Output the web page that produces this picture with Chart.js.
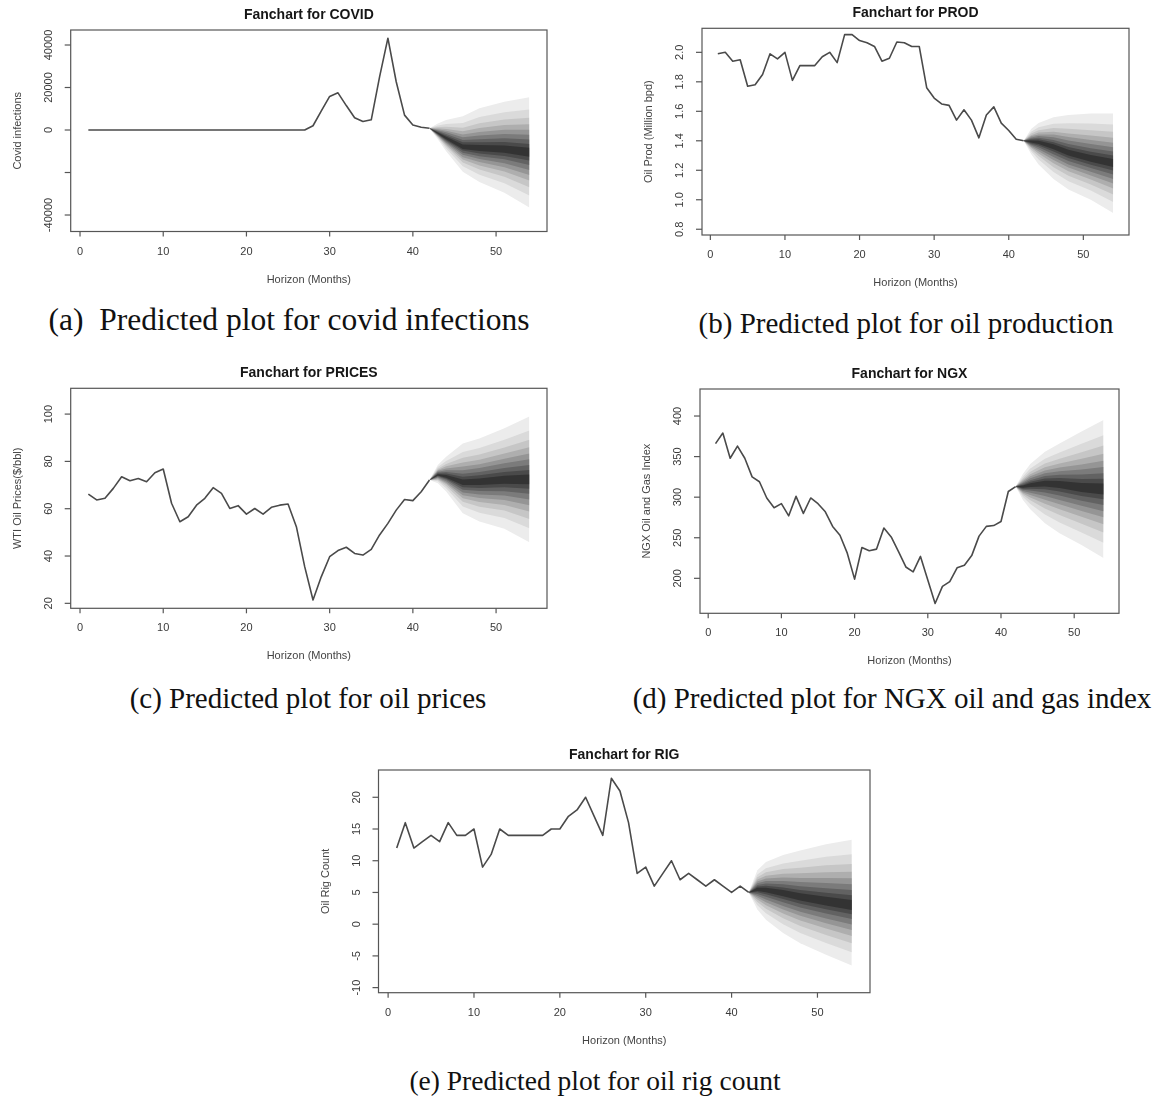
<!DOCTYPE html>
<html>
<head>
<meta charset="utf-8">
<title>Fancharts</title>
<script src="https://cdn.jsdelivr.net/npm/chart.js@4.4.0/dist/chart.umd.min.js"></script>
<style>
  html, body { margin: 0; padding: 0; background: #fff; }
  #page { position: relative; width: 1159px; height: 1097px; overflow: hidden; background: #fff; }
  #page canvas { position: absolute; }
  .caption {
    position: absolute;
    transform: translate(-50%, -50%);
    font-family: "Liberation Serif", "Times New Roman", serif;
    font-size: 29px;
    color: #111;
    white-space: nowrap;
    line-height: 1;
  }
</style>
</head>
<body>
<div id="page">
  <div class="caption" style="left:289px; top:320px; font-size:31.5px">(a)&nbsp; Predicted plot for covid infections</div>
  <div class="caption" style="left:906px; top:323px">(b) Predicted plot for oil production</div>
  <div class="caption" style="left:308px; top:698px">(c) Predicted plot for oil prices</div>
  <div class="caption" style="left:892px; top:698px">(d) Predicted plot for NGX oil and gas index</div>
  <div class="caption" style="left:595px; top:1081px; font-size:27.5px">(e) Predicted plot for oil rig count</div>
</div>
<script>
// observed months and forecast horizon
const months = [1,2,3,4,5,6,7,8,9,10,11,12,13,14,15,16,17,18,19,20,21,
                22,23,24,25,26,27,28,29,30,31,32,33,34,35,36,37,38,39,40,41,42];
const fanMonths = [42, 43, 44, 46, 48, 51, 54];
const xTicks = [0, 10, 20, 30, 40, 50];

// COVID
const covidObs = [0,0,0,0,0,0,0,0,0,0,0,0,0,0,0,0,0,0,0,0,0,0,0,0,0,0,0,
                  2000, 9000, 15800, 17500, 11500, 5800, 4000, 4800, 25000, 43200, 22700, 7000, 2400, 1300, 800];
// fan bands, innermost first
const covidFanUp = [
  [800, -1200, -3200, -6800, -7100, -7300, -8400],
  [800, -900, -2600, -5800, -5800, -5700, -6600],
  [800, -500, -1900, -4700, -4300, -3900, -4500],
  [800, -100, -1100, -3400, -2600, -1900, -2200],
  [800, 300, -400, -2100, -900, 100, 100],
  [800, 800, 500, -600, 1000, 2300, 2700],
  [800, 1400, 1500, 1100, 3200, 5000, 5800],
  [800, 2100, 2800, 3300, 6100, 8400, 9700],
  [800, 3100, 4700, 6500, 10200, 13300, 15400]
];
const covidFanLow = [
  [800, -1800, -4400, -8900, -9900, -10700, -12600],
  [800, -2000, -4800, -9700, -11000, -12200, -14400],
  [800, -2200, -5300, -10700, -12300, -13800, -16500],
  [800, -2500, -5900, -11700, -13700, -15600, -18800],
  [800, -2700, -6400, -12800, -15100, -17500, -21200],
  [800, -3000, -7000, -13900, -16700, -19500, -23800],
  [800, -3300, -7700, -15300, -18600, -22000, -26900],
  [800, -3700, -8700, -17000, -21000, -25000, -30800],
  [800, -4300, -10000, -19600, -24500, -29500, -36500]
];
const covidYTicks = [-40000, -20000, 0, 20000, 40000];
const covidYLabels = ['-40000', '', '0', '20000', '40000'];

// PROD
const prodObs = [1.99, 2.00, 1.94, 1.95, 1.77, 1.78, 1.85, 1.99, 1.955, 2.00,
                 1.81, 1.91, 1.91, 1.91, 1.97, 2.00, 1.93, 2.12, 2.12, 2.08,
                 2.065, 2.04, 1.94, 1.96, 2.07, 2.065, 2.04, 2.04, 1.76, 1.69,
                 1.65, 1.64, 1.54, 1.61, 1.54, 1.42, 1.575, 1.63, 1.52, 1.47,
                 1.41, 1.40];
const prodFanUp = [
  [1.40, 1.402, 1.400, 1.376, 1.340, 1.304, 1.277],
  [1.40, 1.408, 1.410, 1.390, 1.358, 1.326, 1.300],
  [1.40, 1.415, 1.420, 1.406, 1.379, 1.350, 1.327],
  [1.40, 1.422, 1.432, 1.424, 1.402, 1.378, 1.357],
  [1.40, 1.430, 1.443, 1.442, 1.425, 1.405, 1.387],
  [1.40, 1.438, 1.456, 1.462, 1.450, 1.436, 1.421],
  [1.40, 1.449, 1.472, 1.486, 1.481, 1.472, 1.461],
  [1.40, 1.461, 1.491, 1.516, 1.519, 1.518, 1.511],
  [1.40, 1.480, 1.520, 1.560, 1.575, 1.585, 1.585]
];
const prodFanLow = [
  [1.40, 1.388, 1.378, 1.342, 1.300, 1.258, 1.223],
  [1.40, 1.382, 1.368, 1.327, 1.283, 1.238, 1.199],
  [1.40, 1.375, 1.356, 1.309, 1.263, 1.216, 1.172],
  [1.40, 1.368, 1.342, 1.290, 1.240, 1.190, 1.141],
  [1.40, 1.360, 1.329, 1.270, 1.218, 1.165, 1.111],
  [1.40, 1.352, 1.314, 1.248, 1.193, 1.137, 1.077],
  [1.40, 1.341, 1.296, 1.221, 1.163, 1.104, 1.036],
  [1.40, 1.329, 1.273, 1.188, 1.125, 1.062, 0.985],
  [1.40, 1.310, 1.240, 1.140, 1.070, 1.000, 0.910]
];
const prodYTicks = [0.8, 1.0, 1.2, 1.4, 1.6, 1.8, 2.0];
const prodYLabels = ['0.8', '1.0', '1.2', '1.4', '1.6', '1.8', '2.0'];

// PRICES
const priceObs = [66.2, 63.7, 64.4, 68.6, 73.5, 71.8, 72.8, 71.4, 75.2, 76.8,
                  62.3, 54.5, 56.6, 61.5, 64.4, 68.9, 66.5, 60.1, 61.3, 57.7,
                  60.1, 57.7, 60.6, 61.5, 62.0, 52.4, 35.5, 21.4, 31.3, 39.7,
                  42.3, 43.7, 41.1, 40.4, 42.8, 48.9, 53.8, 59.4, 63.9, 63.4,
                  67.2, 72.1];
const priceFanUp = [
  [72.1, 74.6, 74.3, 72.3, 72.8, 73.9, 74.5],
  [72.1, 74.9, 74.9, 73.5, 74.1, 75.5, 76.4],
  [72.1, 75.3, 75.5, 74.8, 75.5, 77.2, 78.5],
  [72.1, 75.6, 76.3, 76.3, 77.2, 79.2, 80.9],
  [72.1, 76.0, 77.0, 77.8, 78.8, 81.1, 83.3],
  [72.1, 76.4, 77.9, 79.5, 80.7, 83.3, 86.0],
  [72.1, 76.9, 78.9, 81.5, 82.9, 85.9, 89.2],
  [72.1, 77.6, 80.2, 84.0, 85.7, 89.2, 93.1],
  [72.1, 78.5, 82.0, 87.6, 89.7, 94.0, 99.0]
];
const priceFanLow = [
  [72.1, 74.0, 73.1, 70.0, 70.0, 70.5, 70.3],
  [72.1, 73.8, 72.7, 69.1, 68.8, 69.1, 68.4],
  [72.1, 73.5, 72.2, 68.0, 67.5, 67.4, 66.3],
  [72.1, 73.2, 71.6, 66.9, 66.0, 65.6, 63.9],
  [72.1, 72.9, 71.0, 65.7, 64.5, 63.7, 61.5],
  [72.1, 72.5, 70.4, 64.4, 62.8, 61.6, 58.8],
  [72.1, 72.1, 69.6, 62.9, 60.8, 59.2, 55.6],
  [72.1, 71.6, 68.7, 60.9, 58.3, 56.1, 51.7],
  [72.1, 70.8, 67.3, 58.1, 54.6, 51.5, 45.8]
];
const priceYTicks = [20, 40, 60, 80, 100];
const priceYLabels = ['20', '40', '60', '80', '100'];

// NGX
const ngxObs = [366, 379, 348, 363, 348, 325, 319, 299, 287, 292,
                277, 301, 280, 299, 292, 282, 264, 253, 231, 199,
                238, 234, 236, 262, 251, 233, 214, 208, 227, 198,
                169, 190, 196, 213, 216, 228, 252, 264, 265, 270,
                307, 313];
const ngxFanUp = [
  [313, 314.3, 317.1, 320.1, 320.0, 317.5, 316.8],
  [313, 315.4, 318.9, 322.9, 323.5, 322.4, 322.8],
  [313, 316.7, 321.0, 326.0, 327.5, 327.9, 329.6],
  [313, 318.1, 323.3, 329.5, 332.0, 334.1, 337.2],
  [313, 319.6, 325.7, 333.0, 336.5, 340.3, 344.9],
  [313, 321.2, 328.3, 336.9, 341.5, 347.2, 353.4],
  [313, 323.1, 331.4, 341.6, 347.5, 355.5, 363.6],
  [313, 325.5, 335.3, 347.4, 355.0, 365.8, 376.3],
  [313, 329, 341, 356, 366, 381, 395]
];
const ngxFanLow = [
  [313, 311.7, 312.6, 313.1, 311.2, 306.3, 303.2],
  [313, 310.5, 310.5, 309.7, 306.9, 301.4, 297.3],
  [313, 309.2, 308.1, 305.7, 302.1, 295.7, 290.5],
  [313, 307.7, 305.4, 301.3, 296.6, 289.3, 282.8],
  [313, 306.2, 302.7, 296.9, 291.2, 282.9, 275.2],
  [313, 304.6, 299.7, 292.0, 285.1, 275.8, 266.7],
  [313, 302.6, 296.1, 286.1, 277.9, 267.3, 256.5],
  [313, 300.1, 291.6, 278.8, 268.8, 256.6, 243.7],
  [313, 296.5, 285, 268, 255.5, 241, 225]
];
const ngxYTicks = [200, 250, 300, 350, 400];
const ngxYLabels = ['200', '250', '300', '350', '400'];

// RIG
const rigObs = [12, 16, 12, 13, 14, 13, 16, 14, 14, 15,
                9, 11, 15, 14, 14, 14, 14, 14, 15, 15,
                17, 18, 20, 17, 14, 23, 21, 16, 8, 9,
                6, 8, 10, 7, 8, 7, 6, 7, 6, 5,
                6, 5];
const rigFanUp = [
  [5, 5.74, 5.75, 5.38, 4.88, 4.32, 3.82],
  [5, 5.95, 6.06, 5.80, 5.40, 4.95, 4.55],
  [5, 6.19, 6.41, 6.28, 5.98, 5.67, 5.37],
  [5, 6.46, 6.81, 6.82, 6.64, 6.48, 6.30],
  [5, 6.73, 7.20, 7.36, 7.29, 7.29, 7.22],
  [5, 7.03, 7.64, 7.96, 8.02, 8.19, 8.25],
  [5, 7.39, 8.17, 8.68, 8.90, 9.27, 9.49],
  [5, 7.84, 8.83, 9.58, 9.99, 10.62, 11.03],
  [5, 8.5, 9.8, 10.9, 11.6, 12.6, 13.3]
];
const rigFanLow = [
  [5, 5.24, 5.02, 4.40, 3.72, 2.93, 2.24],
  [5, 5.02, 4.70, 3.96, 3.21, 2.34, 1.58],
  [5, 4.76, 4.32, 3.45, 2.62, 1.67, 0.82],
  [5, 4.48, 3.90, 2.88, 1.96, 0.91, -0.04],
  [5, 4.19, 3.47, 2.32, 1.31, 0.16, -0.90],
  [5, 3.87, 3.00, 1.69, 0.58, -0.68, -1.85],
  [5, 3.48, 2.44, 0.93, -0.30, -1.69, -2.99],
  [5, 3.00, 1.73, -0.01, -1.39, -2.95, -4.41],
  [5, 2.3, 0.7, -1.4, -3.0, -4.8, -6.5]
];
const rigYTicks = [-10, -5, 0, 5, 10, 15, 20];
const rigYLabels = ['-10', '-5', '0', '5', '10', '15', '20'];

// inner band darkest, outer band lightest
const bandGreys = ['#333333', '#4a4a4a', '#626262', '#7b7b7b', '#959595',
                   '#aeaeae', '#c6c6c6', '#dadada', '#ececec'];

function buildDatasets(obs, fanUp, fanLow) {
  const sets = [{
    data: months.map((m, i) => ({x: m, y: obs[i]})),
    borderColor: '#4a4a4a',
    borderWidth: 1.6,
    borderJoinStyle: 'round',
    pointRadius: 0,
    fill: false
  }];
  fanUp.forEach((up, k) => {
    sets.push({
      data: fanMonths.map((m, i) => ({x: m, y: up[i]})),
      borderWidth: 0, pointRadius: 0,
      backgroundColor: bandGreys[k],
      fill: '+1'
    });
    sets.push({
      data: fanMonths.map((m, i) => ({x: m, y: fanLow[k][i]})),
      borderWidth: 0, pointRadius: 0,
      fill: false
    });
  });
  return sets;
}

// box, ticks and labels drawn the way base R does it
function rFrame(cfg) {
  return {
    id: 'rFrame',
    afterDraw(chart) {
      const {ctx, chartArea: a} = chart;
      const sx = chart.scales.x, sy = chart.scales.y;
      ctx.save();
      ctx.strokeStyle = '#565656';
      ctx.lineWidth = 1.2;
      ctx.strokeRect(a.left, a.top, a.right - a.left, a.bottom - a.top);

      ctx.font = '11px "Liberation Sans", Arial, sans-serif';
      ctx.fillStyle = '#3a3a3a';
      ctx.textAlign = 'center';
      ctx.textBaseline = 'middle';
      xTicks.forEach(v => {
        const px = sx.getPixelForValue(v);
        ctx.beginPath(); ctx.moveTo(px, a.bottom); ctx.lineTo(px, a.bottom + 5); ctx.stroke();
        ctx.fillText(String(v), px, a.bottom + 20);
      });
      cfg.yTicks.forEach((v, i) => {
        const py = sy.getPixelForValue(v);
        ctx.beginPath(); ctx.moveTo(a.left, py); ctx.lineTo(a.left - 6, py); ctx.stroke();
        if (cfg.yLabels[i]) {
          ctx.save();
          ctx.translate(a.left - 22, py);
          ctx.rotate(-Math.PI / 2);
          ctx.fillText(cfg.yLabels[i], 0, 0);
          ctx.restore();
        }
      });

      ctx.fillStyle = '#444';
      ctx.fillText('Horizon (Months)', (a.left + a.right) / 2, a.bottom + 48);
      ctx.save();
      ctx.translate(a.left - 53, (a.top + a.bottom) / 2);
      ctx.rotate(-Math.PI / 2);
      ctx.fillText(cfg.yTitle, 0, 0);
      ctx.restore();

      ctx.fillStyle = '#161616';
      ctx.font = 'bold 14px "Liberation Sans", Arial, sans-serif';
      ctx.fillText(cfg.title, (a.left + a.right) / 2, a.top - 15);
      ctx.restore();
    }
  };
}

function fanchart(box, yMin, yMax, datasets, cfg) {
  const cl = Math.floor(box.l) - 75, ct = Math.floor(box.t) - 32;
  const cw = Math.ceil(box.r) + 12 - cl, ch = Math.ceil(box.b) + 62 - ct;
  const canvas = document.createElement('canvas');
  canvas.width = cw; canvas.height = ch;
  canvas.style.left = cl + 'px'; canvas.style.top = ct + 'px';
  canvas.style.width = cw + 'px'; canvas.style.height = ch + 'px';
  document.getElementById('page').appendChild(canvas);

  new Chart(canvas, {
    type: 'line',
    data: {datasets: datasets},
    options: {
      responsive: false,
      animation: false,
      devicePixelRatio: 1,
      layout: {padding: {left: box.l - cl, top: box.t - ct, right: cl + cw - box.r, bottom: ct + ch - box.b}},
      plugins: {legend: {display: false}, tooltip: {enabled: false}, title: {display: false}},
      elements: {line: {tension: 0}},
      scales: {
        x: {type: 'linear', min: -1.12, max: 56.12, display: false},
        y: {type: 'linear', min: yMin, max: yMax, display: false}
      }
    },
    plugins: [rFrame(cfg)]
  });
}

fanchart({l: 70.7, t: 30, r: 547, b: 231.5}, -47760, 47060,
  buildDatasets(covidObs, covidFanUp, covidFanLow),
  {title: 'Fanchart for COVID', yTitle: 'Covid infections', yTicks: covidYTicks, yLabels: covidYLabels});

fanchart({l: 702, t: 28.3, r: 1129, b: 235}, 0.761, 2.163,
  buildDatasets(prodObs, prodFanUp, prodFanLow),
  {title: 'Fanchart for PROD', yTitle: 'Oil Prod (Million bpd)', yTicks: prodYTicks, yLabels: prodYLabels});

fanchart({l: 70.7, t: 388.3, r: 547, b: 608.3}, 17.9, 110.9,
  buildDatasets(priceObs, priceFanUp, priceFanLow),
  {title: 'Fanchart for PRICES', yTitle: 'WTI Oil Prices($/bbl)', yTicks: priceYTicks, yLabels: priceYLabels});

fanchart({l: 700, t: 389, r: 1119, b: 613.3}, 156.9, 433.3,
  buildDatasets(ngxObs, ngxFanUp, ngxFanLow),
  {title: 'Fanchart for NGX', yTitle: 'NGX Oil and Gas Index', yTicks: ngxYTicks, yLabels: ngxYLabels});

fanchart({l: 378.5, t: 770, r: 870, b: 992.7}, -10.8, 24.3,
  buildDatasets(rigObs, rigFanUp, rigFanLow),
  {title: 'Fanchart for RIG', yTitle: 'Oil Rig Count', yTicks: rigYTicks, yLabels: rigYLabels});
</script>
</body>
</html>
